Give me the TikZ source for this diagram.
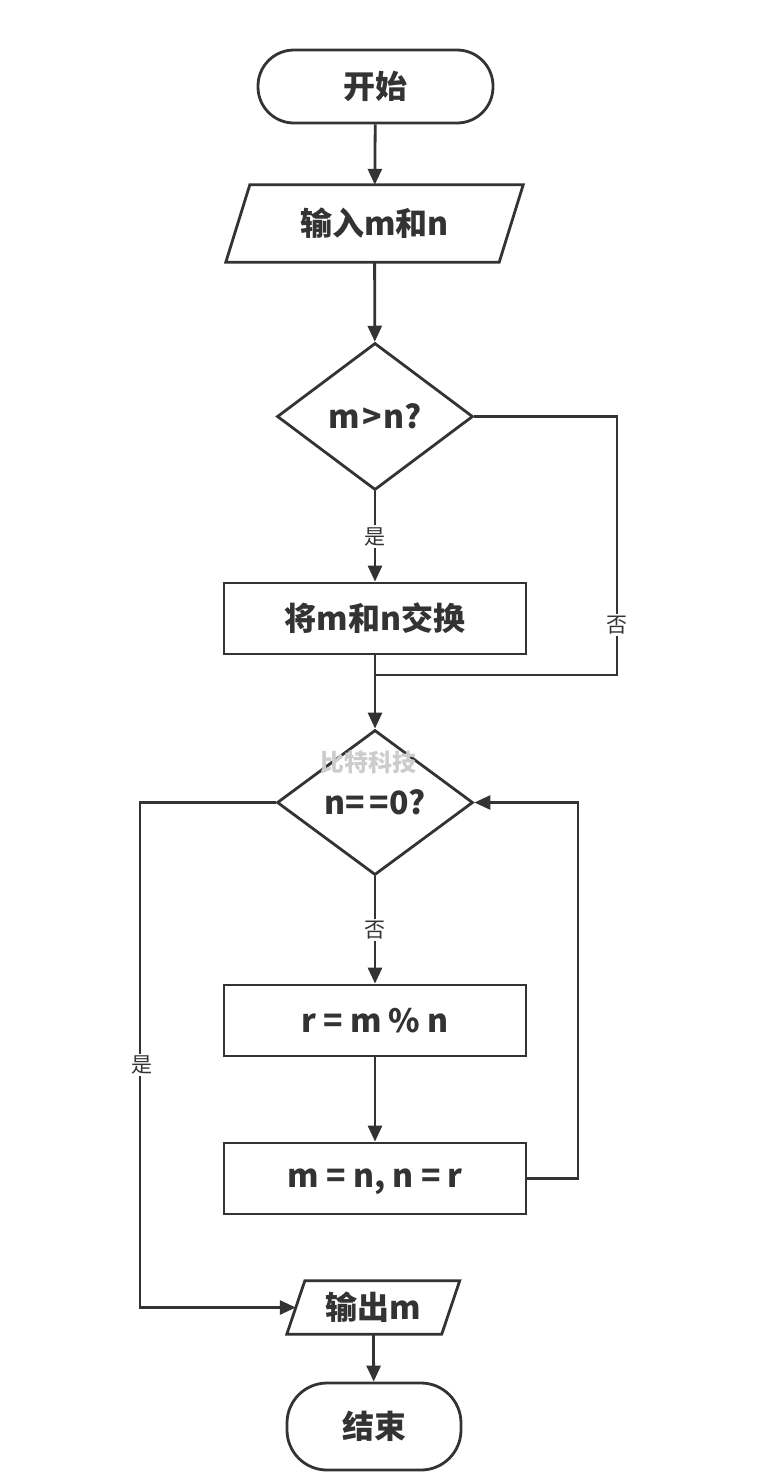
\documentclass[tikz,border=0pt]{standalone}
\usepackage{fontspec}
\setmainfont{Noto Sans CJK SC}
\usetikzlibrary{shapes.geometric,arrows.meta,calc}
\definecolor{ink}{HTML}{333333}
\begin{document}
\begin{tikzpicture}[x=1pt,y=-1pt,
  every node/.style={text=ink},
  line/.style={draw=ink,line width=2.8pt},
  arr/.style={line,-{Triangle[length=16pt,width=14pt]}},
  big/.style={font=\fontsize{32}{34}\selectfont\bfseries},
  term/.style={draw=ink,line width=2.8pt,rounded corners=36pt,big},
  proc/.style={draw=ink,line width=2.8pt,minimum width=302pt,minimum height=71pt,inner sep=0pt,big},
  dec/.style={diamond,draw=ink,line width=2.8pt,inner sep=0pt,big},
  io/.style={inner sep=0pt,big},
  lbl/.style={fill=white,inner sep=2pt,font=\fontsize{21}{23}\selectfont}]
\useasboundingbox (0,0) rectangle (762,1481);
\fill[white] (0,0) rectangle (762,1481);

\node[term,minimum width=235pt,minimum height=73pt] (start) at (375.5,86.5) {开始};
\node[io,minimum width=273pt,minimum height=77pt] (inp) at (374.5,223.5) {输入m和n};
\draw[line] ($(inp.south west)+(-12,0)$) -- ($(inp.south east)+(-12,0)$) -- ($(inp.north east)+(12,0)$) -- ($(inp.north west)+(12,0)$) -- cycle;
\node[dec,minimum width=196pt,minimum height=147pt] (d1) at (375,416.5) {m\hspace{2pt}>\hspace{2pt}n?};
\node[proc] (swap) at (375,618.5) {将m和n交换};
\node[dec,minimum width=196pt,minimum height=145pt] (d2) at (375,802.5) {n=\,=0?};
\node[text=gray!40,font=\fontsize{24}{26}\selectfont\bfseries] (wm) at (368,762) {比特科技};
\node[proc] (rbox) at (375,1020.5) {r = m \% n};
\node[proc,text height=17pt,text depth=0pt] (mbox) at (375,1178.5) {m = n, n = r};
\node[io,minimum width=154.5pt,minimum height=53pt] (out) at (373.25,1307.5) {输出m};
\draw[line] ($(out.south west)+(-9,0)$) -- ($(out.south east)+(-9,0)$) -- ($(out.north east)+(9,0)$) -- ($(out.north west)+(9,0)$) -- cycle;
\node[term,minimum width=174pt,minimum height=87pt,rounded corners=40pt] (end) at (374,1426.5) {结束};

\coordinate (j) at (375,675);
\coordinate (rn) at (617,675);
\coordinate (lp) at (578,1178.5);
\coordinate (ly) at (140,1307.5);

\draw[arr] (start) -- (inp);
\draw[arr] (inp) -- (d1);
\draw[arr] (d1) -- node[lbl] (yes1) {是} (swap);
\draw[line] (d1.east) -| (rn) -- (j);
\node[lbl] (no1) at (617,625) {否};
\draw[arr] (swap) -- (d2);
\draw[arr] (d2) -- node[lbl] (no2) {否} (rbox);
\draw[arr] (rbox) -- (mbox);
\draw[arr] (mbox.east) -- (lp) |- (d2.east);
\draw[arr] (d2.west) -| (ly) -- (out.west);
\node[lbl] (yes2) at (142,1065) {是};
\draw[arr] (out) -- (end);
\end{tikzpicture}
\end{document}
